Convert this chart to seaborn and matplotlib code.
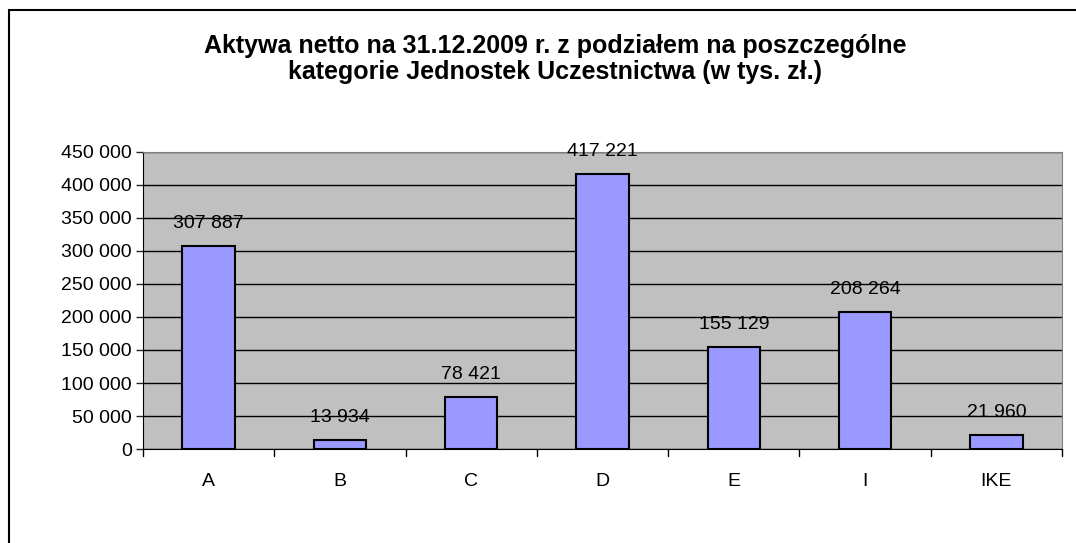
import seaborn as sns
import matplotlib.pyplot as plt
import matplotlib.patches as patches
import pandas as pd

# dane z wykresu
kategorie = ['A', 'B', 'C', 'D', 'E', 'I', 'IKE']
aktywa = [307887, 13934, 78421, 417221, 155129, 208264, 21960]
etykiety = ['307 887', '13 934', '78 421', '417 221', '155 129', '208 264', '21 960']
yticks = [0, 50000, 100000, 150000, 200000, 250000, 300000, 350000, 400000, 450000]
yticklabels = ['0', '50 000', '100 000', '150 000', '200 000', '250 000',
               '300 000', '350 000', '400 000', '450 000']

df = pd.DataFrame({'kategoria': kategorie, 'aktywa': aktywa})

sns.set_style('ticks')
plt.rcParams['font.family'] = ['Liberation Sans', 'DejaVu Sans']

fig = plt.figure(figsize=(10.76, 5.43), dpi=100)
ax = fig.add_axes([0.1329, 0.1731, 0.8541, 0.547])

sns.barplot(data=df, x='kategoria', y='aktywa', color='#9999FF', saturation=1,
            edgecolor='black', linewidth=1.5, width=0.4, ax=ax)

ax.set_facecolor('#C0C0C0')
ax.set_ylim(0, 450000)
ax.set_xlim(-0.5, len(kategorie) - 0.5)
ax.set_yticks(yticks)
ax.set_yticklabels(yticklabels, fontsize=14, color='black')
ax.set_xticks(range(len(kategorie)))
ax.set_xticklabels(kategorie, fontsize=14, color='black')
ax.tick_params(axis='x', length=0, pad=17)
ax.tick_params(axis='y', length=5, width=1, pad=3)
# znaczniki na granicach kategorii
for i in range(len(kategorie) + 1):
    ax.plot([i - 0.5, i - 0.5], [0, -0.025], transform=ax.get_xaxis_transform(),
            color='black', lw=1, clip_on=False)
ax.yaxis.grid(True, color='black', lw=1)
ax.set_axisbelow(True)
ax.set_xlabel('')
ax.set_ylabel('')
for s in ['top', 'right']:
    ax.spines[s].set_color('#808080')
ax.spines['left'].set_color('black')
ax.spines['bottom'].set_color('black')

ax.bar_label(ax.containers[0], labels=etykiety, fontsize=14, padding=10, color='black')

fig.text(0.516, 0.892, 'Aktywa netto na 31.12.2009 r. z podziałem na poszczególne\n'
         'kategorie Jednostek Uczestnictwa (w tys. zł.)',
         ha='center', va='center', fontsize=18, fontweight='bold', linespacing=1.1,
         color='black')

# ramka wykresu
fig.add_artist(patches.Rectangle((9 / 1076, -0.1), 1.2, 1 - 10 / 543 + 0.1,
                                 transform=fig.transFigure, fill=False,
                                 edgecolor='black', lw=1.5))

fig.savefig('out.png', dpi=100)
